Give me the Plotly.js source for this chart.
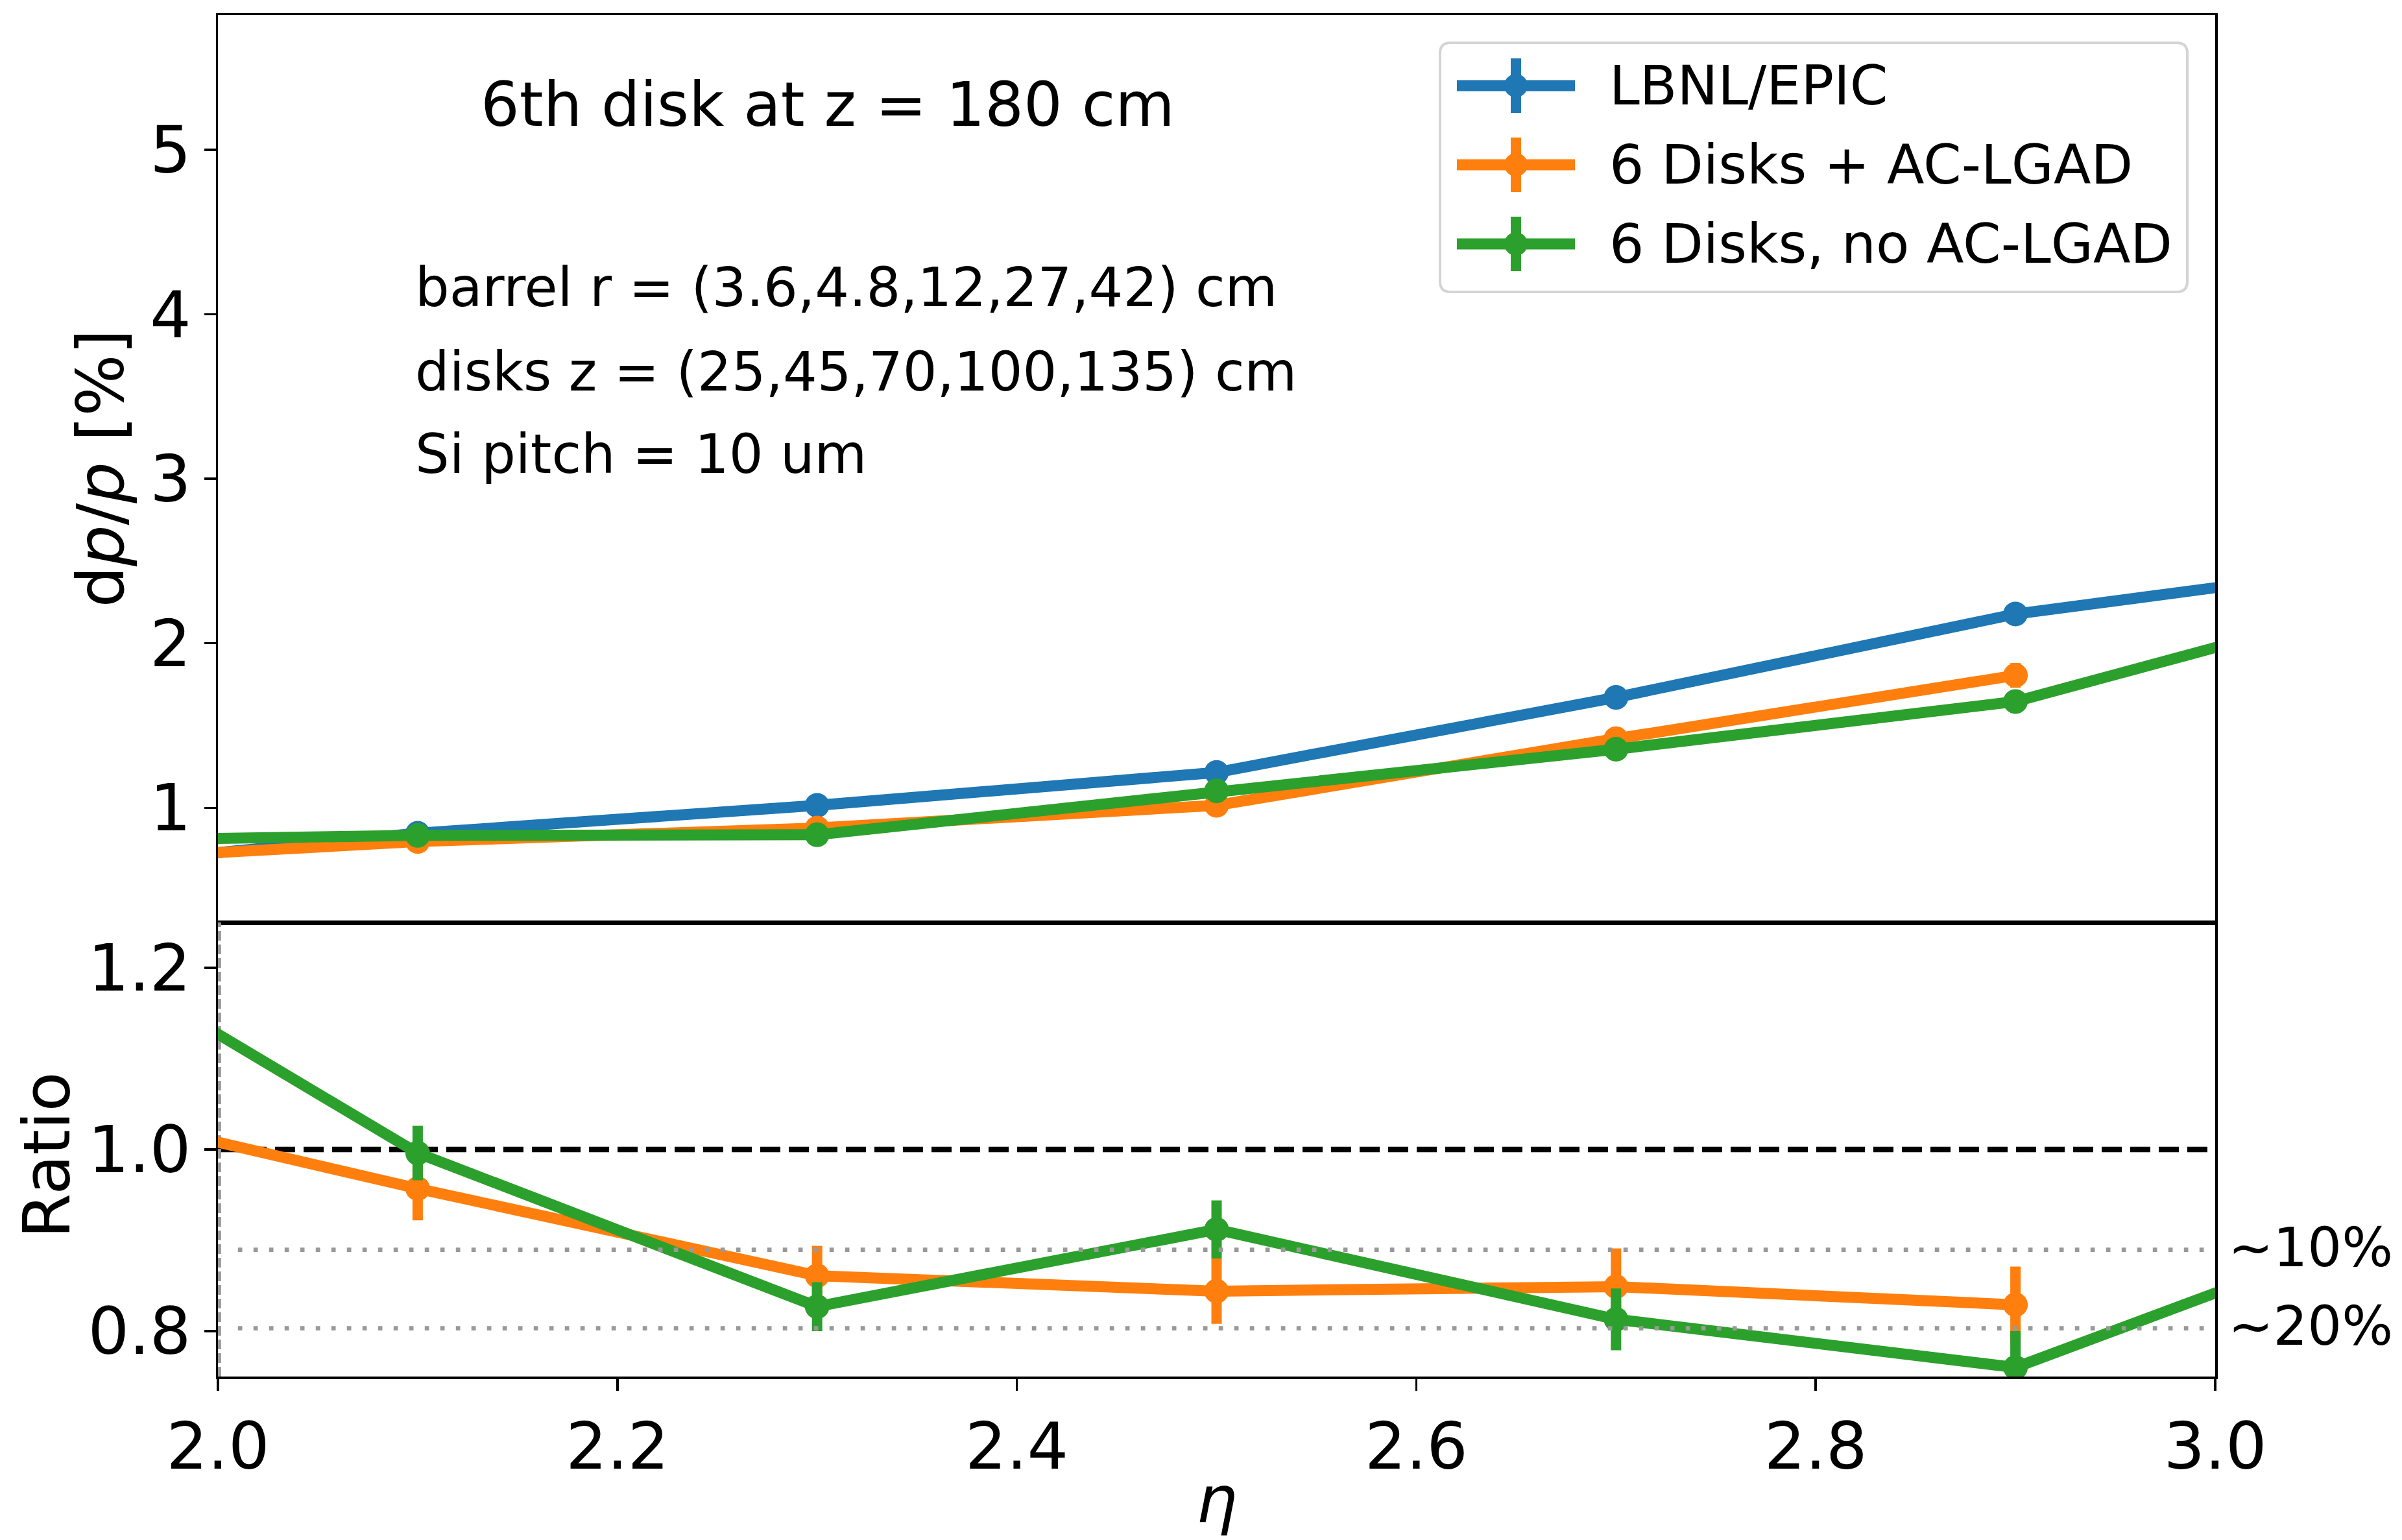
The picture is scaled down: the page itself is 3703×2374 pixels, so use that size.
<!DOCTYPE html>
<html>
<head>
<meta charset="utf-8">
<script src="https://cdn.plot.ly/plotly-3.0.1.min.js"></script>
<style>
  html, body { margin: 0; padding: 0; background: #ffffff; }
  #chart { width: 3703px; height: 2374px; }
</style>
</head>
<body>
<div id="chart"></div>
<script>
// ---------------- data ----------------
const seriesNames = ["LBNL/EPIC", "6 Disks + AC-LGAD", "6 Disks, no AC-LGAD"];
const seriesColors = ["#1f77b4", "#ff7f0e", "#2ca02c"];

const etaLBNL = [1.9, 2.1, 2.3, 2.5, 2.7, 2.9, 3.1];
const dppLBNL = [0.61, 0.845, 1.015, 1.215, 1.671, 2.178, 2.498];
const errLBNL = [0.02, 0.02, 0.025, 0.03, 0.04, 0.05, 0.06];

const etaAC = [1.9, 2.1, 2.3, 2.5, 2.7, 2.9];
const dppAC = [0.66, 0.795, 0.877, 1.015, 1.42, 1.805];
const errAC = [0.03, 0.03, 0.035, 0.04, 0.055, 0.075];

const etaNoAC = [1.9, 2.1, 2.3, 2.5, 2.7, 2.9, 3.1];
const dppNoAC = [0.796, 0.832, 0.836, 1.103, 1.356, 1.646, 2.302];
const errNoAC = [0.03, 0.03, 0.03, 0.035, 0.05, 0.07, 0.08];

const ratioAC = [1.059, 0.957, 0.861, 0.844, 0.849, 0.829];
const ratioACErr = [0.04, 0.035, 0.033, 0.036, 0.042, 0.042];
const ratioNoAC = [1.258, 0.996, 0.827, 0.912, 0.813, 0.760, 0.924];
const ratioNoACErr = [0.045, 0.03, 0.027, 0.032, 0.034, 0.04, 0.04];

const xTickVals = [2.0, 2.2, 2.4, 2.6, 2.8, 3.0];
const xTickText = ["2.0", "2.2", "2.4", "2.6", "2.8", "3.0"];
const yTickVals = [1, 2, 3, 4, 5];
const yTickText = ["1", "2", "3", "4", "5"];
const rTickVals = [0.8, 1.0, 1.2];
const rTickText = ["0.8", "1.0", "1.2"];

const unityLevel = 1.0;
const bandLevels = [0.8896, 0.8031];
const bandLabels = ["~10%", "~20%"];

const infoTitle = "6th disk at z = 180 cm";
const infoLines = ["barrel r = (3.6,4.8,12,27,42) cm", "disks z = (25,45,70,100,135) cm", "Si pitch = 10 um"];

// ---------------- layout geometry (pixels) ----------------
const W = 3703, H = 2374;
const L = 336, R = 3415, T = 23, B = 2122, MID = 1422;
const splitFrac = (B - MID) / (B - T);
const FONT = "DejaVu Sans, Liberation Sans, sans-serif";
const LW = 17, MS = 38, EW = 16, LEG_MS = 36;
const SPINE = 3.5;

function px(X) { return (X - L) / (R - L); }
function py(Y) { return (B - Y) / (B - T); }
function P(X, Y) { return px(X).toFixed(6) + "," + py(Y).toFixed(6); }

// ---------------- traces ----------------
function mk(x, y, err, i, xa, ya) {
  return {
    type: "scatter", mode: "lines+markers", x: x, y: y,
    xaxis: xa, yaxis: ya, name: seriesNames[i], showlegend: false,
    line: { color: seriesColors[i], width: LW },
    marker: { color: seriesColors[i], size: MS, line: { width: 0 } },
    error_y: { type: "data", array: err, visible: true, color: seriesColors[i], thickness: EW, width: 0 },
    cliponaxis: true, hoverinfo: "skip"
  };
}
const traces = [
  mk(etaLBNL, dppLBNL, errLBNL, 0, "x", "y"),
  mk(etaAC, dppAC, errAC, 1, "x", "y"),
  mk(etaNoAC, dppNoAC, errNoAC, 2, "x", "y"),
  mk(etaAC, ratioAC, ratioACErr, 1, "x2", "y2"),
  mk(etaNoAC, ratioNoAC, ratioNoACErr, 2, "x2", "y2")
];

// ---------------- shapes ----------------
const shapes = [];
shapes.push({ type: "line", xref: "x2", yref: "y2", x0: 2.0, x1: 3.0, y0: unityLevel, y1: unityLevel,
  line: { color: "#000000", width: 8.3, dash: "31px,13px" }, layer: "below" });
shapes.push({ type: "line", xref: "x2", yref: "y2", x0: 2.0006, x1: 2.0006, y0: 0.75, y1: 1.25,
  line: { color: "#9a9a9a", width: 6, dash: "15px,6px" }, layer: "below" });
bandLevels.forEach(v => {
  shapes.push({ type: "line", xref: "x2", yref: "y2", x0: 2.01, x1: 2.995, y0: v, y1: v,
    line: { color: "#999999", width: 6.7, dash: "6.7px,17.3px" }, layer: "above" });
});

// legend box (rounded)
const LX0 = 2220, LX1 = 3372, LY0 = 66, LY1 = 450, RR = 16;
shapes.push({
  type: "path", xref: "paper", yref: "paper", layer: "above",
  path: `M ${P(LX0 + RR, LY0)} L ${P(LX1 - RR, LY0)} Q ${P(LX1, LY0)} ${P(LX1, LY0 + RR)} ` +
        `L ${P(LX1, LY1 - RR)} Q ${P(LX1, LY1)} ${P(LX1 - RR, LY1)} L ${P(LX0 + RR, LY1)} ` +
        `Q ${P(LX0, LY1)} ${P(LX0, LY1 - RR)} L ${P(LX0, LY0 + RR)} Q ${P(LX0, LY0)} ${P(LX0 + RR, LY0)} Z`,
  fillcolor: "rgba(255,255,255,0.85)", line: { color: "#d4d4d4", width: 4 }
});

const annotations = [];
const legY0 = 132, legDY = 122, symX0 = 2246, symX1 = 2428, symXC = 2337, txtX = 2479;
seriesNames.forEach((nm, i) => {
  const yc = legY0 + i * legDY;
  const c = seriesColors[i];
  shapes.push({ type: "line", xref: "paper", yref: "paper", layer: "above",
    x0: px(symX0), x1: px(symX1), y0: py(yc), y1: py(yc), line: { color: c, width: LW } });
  shapes.push({ type: "line", xref: "paper", yref: "paper", layer: "above",
    x0: px(symXC), x1: px(symXC), y0: py(yc - 42), y1: py(yc + 42), line: { color: c, width: EW } });
  shapes.push({ type: "circle", xref: "paper", yref: "paper", layer: "above",
    x0: px(symXC - LEG_MS / 2), x1: px(symXC + LEG_MS / 2), y0: py(yc + LEG_MS / 2), y1: py(yc - LEG_MS / 2),
    fillcolor: c, line: { width: 0 } });
  annotations.push({ xref: "paper", yref: "paper", x: px(txtX), y: py(yc), xanchor: "left", yanchor: "middle",
    text: nm, showarrow: false, font: { family: FONT, size: 84, color: "#000000" } });
});

// info text
annotations.push({ xref: "x", yref: "y", x: 2.1309, y: 5.273, xanchor: "left", yanchor: "middle",
  text: infoTitle, showarrow: false, font: { family: FONT, size: 94, color: "#000000" } });
const infoY = [4.161, 3.649, 3.148];
infoLines.forEach((t, i) => {
  annotations.push({ xref: "x", yref: "y", x: 2.098, y: infoY[i], xanchor: "left", yanchor: "middle",
    text: t, showarrow: false, font: { family: FONT, size: 83, color: "#000000" } });
});

// band labels
bandLabels.forEach((t, i) => {
  annotations.push({ xref: "paper", yref: "y2", x: 1, y: bandLevels[i] + 0.002, xanchor: "left", yanchor: "middle",
    xshift: 18, text: t, showarrow: false, font: { family: FONT, size: 83, color: "#000000" } });
});

// axis titles
annotations.push({ xref: "paper", yref: "y domain", x: 0, y: 0.5, xanchor: "center", yanchor: "middle",
  xshift: -181, textangle: -90, text: "d<i>p</i>/<i>p</i> [%]", showarrow: false,
  font: { family: FONT, size: 100, color: "#000000" } });
annotations.push({ xref: "paper", yref: "y2 domain", x: 0, y: 0.5, xanchor: "center", yanchor: "middle",
  xshift: -264, yshift: -9, textangle: -90, text: "Ratio", showarrow: false,
  font: { family: FONT, size: 100, color: "#000000" } });
annotations.push({ xref: "paper", yref: "paper", x: 0.5, y: 0, xanchor: "center", yanchor: "middle",
  yshift: -189, text: "<i>η</i>", showarrow: false,
  font: { family: FONT, size: 100, color: "#000000" } });

// ---------------- axes ----------------
const axBase = {
  showline: true, mirror: true, linecolor: "#000000", linewidth: SPINE,
  showgrid: false, zeroline: false, ticks: "outside", ticklen: 18, tickwidth: SPINE,
  tickcolor: "#000000", tickfont: { family: FONT, size: 100, color: "#000000" }
};

const layout = {
  width: W, height: H,
  margin: { l: L, r: W - R, t: T, b: H - B, pad: 0 },
  paper_bgcolor: "#ffffff", plot_bgcolor: "#ffffff",
  showlegend: false,
  xaxis: Object.assign({}, axBase, { anchor: "y", domain: [0, 1], range: [2.0, 3.0],
    showticklabels: false, ticks: "", matches: "x2" }),
  xaxis2: Object.assign({}, axBase, { anchor: "y2", domain: [0, 1], range: [2.0, 3.0],
    tickmode: "array", tickvals: xTickVals, ticktext: xTickText }),
  yaxis: Object.assign({}, axBase, { anchor: "x", domain: [splitFrac, 1], range: [0.303, 5.82],
    tickmode: "array", tickvals: yTickVals, ticktext: yTickText }),
  yaxis2: Object.assign({}, axBase, { anchor: "x2", domain: [0, splitFrac], range: [0.75, 1.25],
    tickmode: "array", tickvals: rTickVals, ticktext: rTickText }),
  shapes: shapes,
  annotations: annotations
};

Plotly.newPlot("chart", traces, layout, { staticPlot: true, displayModeBar: false });
</script>
</body>
</html>
